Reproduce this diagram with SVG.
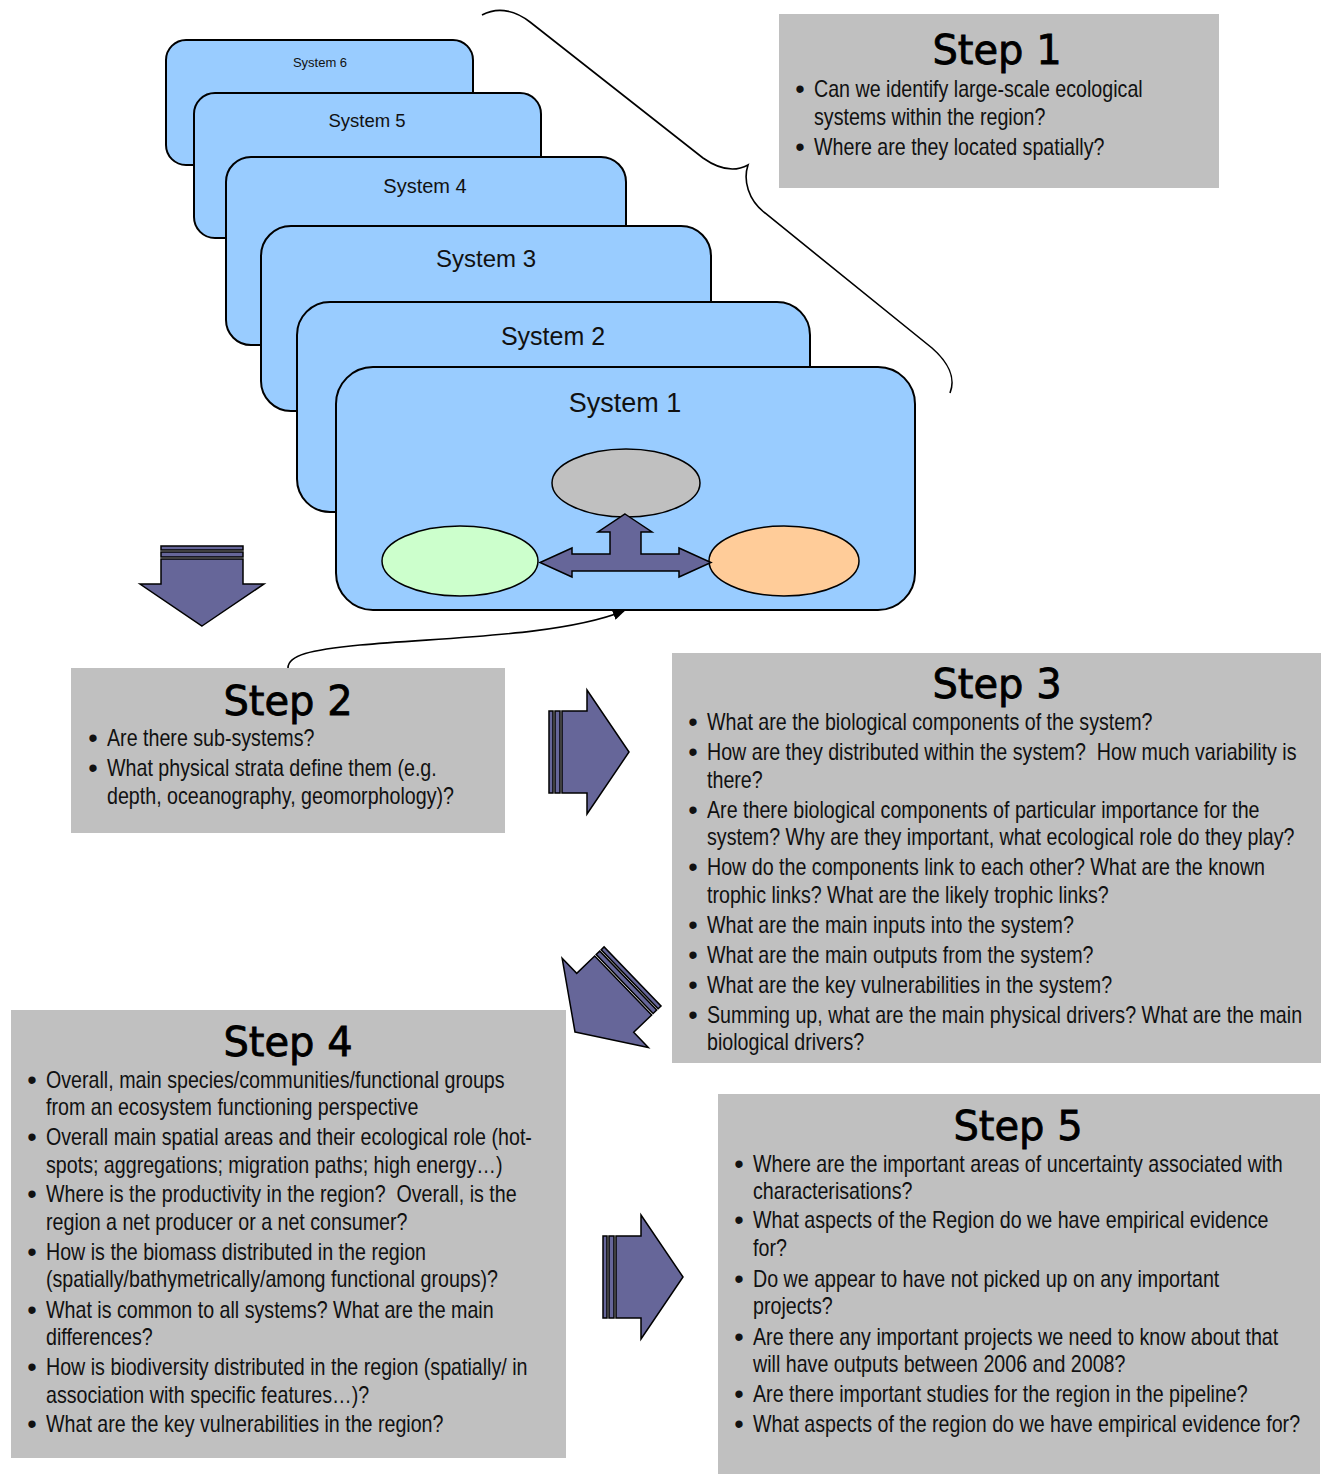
<svg xmlns="http://www.w3.org/2000/svg" width="1323" height="1474" viewBox="0 0 1323 1474">
<style>
.sys{fill:#99CCFF;stroke:#000;stroke-width:2}
.box{fill:#C0C0C0}
.title{font-family:"DejaVu Sans",Verdana,sans-serif;font-size:40px;text-anchor:middle;fill:#000;stroke:#000;stroke-width:0.8}
.body{font-family:"Liberation Sans",Arial,sans-serif;font-size:23px;fill:#111}
.blt{font-family:"Liberation Sans",Arial,sans-serif;font-size:27px;text-anchor:middle;fill:#111}
.lbl{font-family:"Liberation Sans",Arial,sans-serif;text-anchor:middle;fill:#111}
.arr{fill:#666699;stroke:#000;stroke-width:1.5;stroke-linejoin:miter}
.ell{stroke:#000;stroke-width:1.5}
.conn{fill:none;stroke:#000;stroke-width:1.6}
</style>
<defs>
<g id="blockArrow">
<rect class="arr" x="-80" y="-41" width="4" height="82"/>
<rect class="arr" x="-74" y="-41" width="5" height="82"/>
<polygon class="arr" points="0,0 -42,-62 -42,-41 -67,-41 -67,41 -42,41 -42,62"/>
</g>
<marker id="ah" markerWidth="12" markerHeight="10" refX="11" refY="5" orient="auto" markerUnits="userSpaceOnUse">
<path d="M0,0 L12,5 L0,10 Z" fill="#000"/>
</marker>
<clipPath id="clip3"><rect x="672" y="653" width="649" height="402"/></clipPath>
</defs>

<g id="system6">
<rect class="sys" x="166" y="40" width="307" height="125" rx="20" ry="20"/>
<text class="lbl" x="320" y="67" font-size="13">System 6</text>
</g>
<g id="system5">
<rect class="sys" x="194" y="93" width="347" height="145" rx="21" ry="21"/>
<text class="lbl" x="367" y="127" font-size="18.5">System 5</text>
</g>
<g id="system4">
<rect class="sys" x="226" y="157" width="400" height="188" rx="25" ry="25"/>
<text class="lbl" x="425" y="193" font-size="20">System 4</text>
</g>
<g id="system3">
<rect class="sys" x="261" y="226" width="450" height="185" rx="30" ry="30"/>
<text class="lbl" x="486" y="267" font-size="24">System 3</text>
</g>
<g id="system2">
<rect class="sys" x="297" y="302" width="513" height="210" rx="33" ry="33"/>
<text class="lbl" x="553" y="345" font-size="25">System 2</text>
</g>
<g id="system1">
<rect class="sys" x="336" y="367" width="579" height="243" rx="37" ry="37"/>
<text class="lbl" x="625" y="412" font-size="27">System 1</text>
<ellipse class="ell" cx="626" cy="483" rx="74" ry="34" fill="#C0C0C0"/>
<ellipse class="ell" cx="460" cy="561" rx="78" ry="35" fill="#CCFFCC"/>
<ellipse class="ell" cx="784" cy="561" rx="75" ry="35" fill="#FFCC99"/>
<polygon class="arr" points="625,514 652,532 641,532 641,554 679,554 679,548 711,562.5 679,577 679,571 572,571 572,577 540,562.5 572,548 572,554 610,554 610,532 598,532"/>
</g>

<g id="step1">
<rect class="box" x="779" y="14" width="440" height="174"/>
<text class="title" x="997" y="64">Step 1</text>
<text class="blt" x="800" y="98">•</text>
<text class="blt" x="800" y="156">•</text>
<g transform="translate(814 0) scale(0.855 1)">
<text class="body" y="97">Can we identify large-scale ecological</text>
<text class="body" y="125">systems within the region?</text>
<text class="body" y="155">Where are they located spatially?</text>
</g>
</g>

<g id="step2">
<rect class="box" x="71" y="668" width="434" height="165"/>
<text class="title" x="288" y="715">Step 2</text>
<text class="blt" x="93" y="747">•</text>
<text class="blt" x="93" y="777">•</text>
<g transform="translate(107 0) scale(0.855 1)">
<text class="body" y="746">Are there sub-systems?</text>
<text class="body" y="776">What physical strata define them (e.g.</text>
<text class="body" y="804">depth, oceanography, geomorphology)?</text>
</g>
</g>

<g id="step3">
<rect class="box" x="672" y="653" width="649" height="410"/>
<text class="title" x="997" y="698">Step 3</text>
<g clip-path="url(#clip3)">
<text class="blt" x="693" y="731">•</text>
<text class="blt" x="693" y="761">•</text>
<text class="blt" x="693" y="819">•</text>
<text class="blt" x="693" y="876">•</text>
<text class="blt" x="693" y="934">•</text>
<text class="blt" x="693" y="964">•</text>
<text class="blt" x="693" y="994">•</text>
<text class="blt" x="693" y="1024">•</text>
<g transform="translate(707 0) scale(0.855 1)">
<text class="body" y="730">What are the biological components of the system?</text>
<text class="body" y="760" xml:space="preserve">How are they distributed within the system?  How much variability is</text>
<text class="body" y="788">there?</text>
<text class="body" y="818">Are there biological components of particular importance for the</text>
<text class="body" y="845">system? Why are they important, what ecological role do they play?</text>
<text class="body" y="875">How do the components link to each other? What are the known</text>
<text class="body" y="903">trophic links? What are the likely trophic links?</text>
<text class="body" y="933">What are the main inputs into the system?</text>
<text class="body" y="963">What are the main outputs from the system?</text>
<text class="body" y="993">What are the key vulnerabilities in the system?</text>
<text class="body" y="1023">Summing up, what are the main physical drivers? What are the main</text>
<text class="body" y="1050">biological drivers?</text>
</g>
</g>
</g>

<g id="step4">
<rect class="box" x="11" y="1010" width="555" height="448"/>
<text class="title" x="288" y="1056">Step 4</text>
<text class="blt" x="32" y="1089">•</text>
<text class="blt" x="32" y="1146">•</text>
<text class="blt" x="32" y="1203">•</text>
<text class="blt" x="32" y="1261">•</text>
<text class="blt" x="32" y="1319">•</text>
<text class="blt" x="32" y="1376">•</text>
<text class="blt" x="32" y="1433">•</text>
<g transform="translate(46 0) scale(0.855 1)">
<text class="body" y="1088">Overall, main species/communities/functional groups</text>
<text class="body" y="1115">from an ecosystem functioning perspective</text>
<text class="body" y="1145">Overall main spatial areas and their ecological role (hot-</text>
<text class="body" y="1173">spots; aggregations; migration paths; high energy…)</text>
<text class="body" y="1202" xml:space="preserve">Where is the productivity in the region?  Overall, is the</text>
<text class="body" y="1230">region a net producer or a net consumer?</text>
<text class="body" y="1260">How is the biomass distributed in the region</text>
<text class="body" y="1287">(spatially/bathymetrically/among functional groups)?</text>
<text class="body" y="1318">What is common to all systems? What are the main</text>
<text class="body" y="1345">differences?</text>
<text class="body" y="1375">How is biodiversity distributed in the region (spatially/ in</text>
<text class="body" y="1403">association with specific features…)?</text>
<text class="body" y="1432">What are the key vulnerabilities in the region?</text>
</g>
</g>

<g id="step5">
<rect class="box" x="718" y="1094" width="602" height="380"/>
<text class="title" x="1018" y="1140">Step 5</text>
<text class="blt" x="739" y="1173">•</text>
<text class="blt" x="739" y="1229">•</text>
<text class="blt" x="739" y="1288">•</text>
<text class="blt" x="739" y="1346">•</text>
<text class="blt" x="739" y="1403">•</text>
<text class="blt" x="739" y="1433">•</text>
<g transform="translate(753 0) scale(0.855 1)">
<text class="body" y="1172">Where are the important areas of uncertainty associated with</text>
<text class="body" y="1199">characterisations?</text>
<text class="body" y="1228">What aspects of the Region do we have empirical evidence</text>
<text class="body" y="1256">for?</text>
<text class="body" y="1287">Do we appear to have not picked up on any important</text>
<text class="body" y="1314">projects?</text>
<text class="body" y="1345">Are there any important projects we need to know about that</text>
<text class="body" y="1372">will have outputs between 2006 and 2008?</text>
<text class="body" y="1402">Are there important studies for the region in the pipeline?</text>
<text class="body" y="1432">What aspects of the region do we have empirical evidence for?</text>
</g>
</g>

<g id="connectors">
<path class="conn" d="M482,15 C495,8 512,8 530,22 L703,158 C720,170 735,172 748,165 C743,180 748,200 765,213 L932,348 C948,362 956,378 950,393"/>
<path class="conn" d="M288,668 C288,655 310,650 360,645 C450,637 560,636 624,611" marker-end="url(#ah)"/>
<use href="#blockArrow" transform="translate(202 626) rotate(90)"/>
<use href="#blockArrow" transform="translate(629 752)"/>
<use href="#blockArrow" transform="translate(575 1032) rotate(136)"/>
<use href="#blockArrow" transform="translate(683 1277)"/>
</g>
</svg>
